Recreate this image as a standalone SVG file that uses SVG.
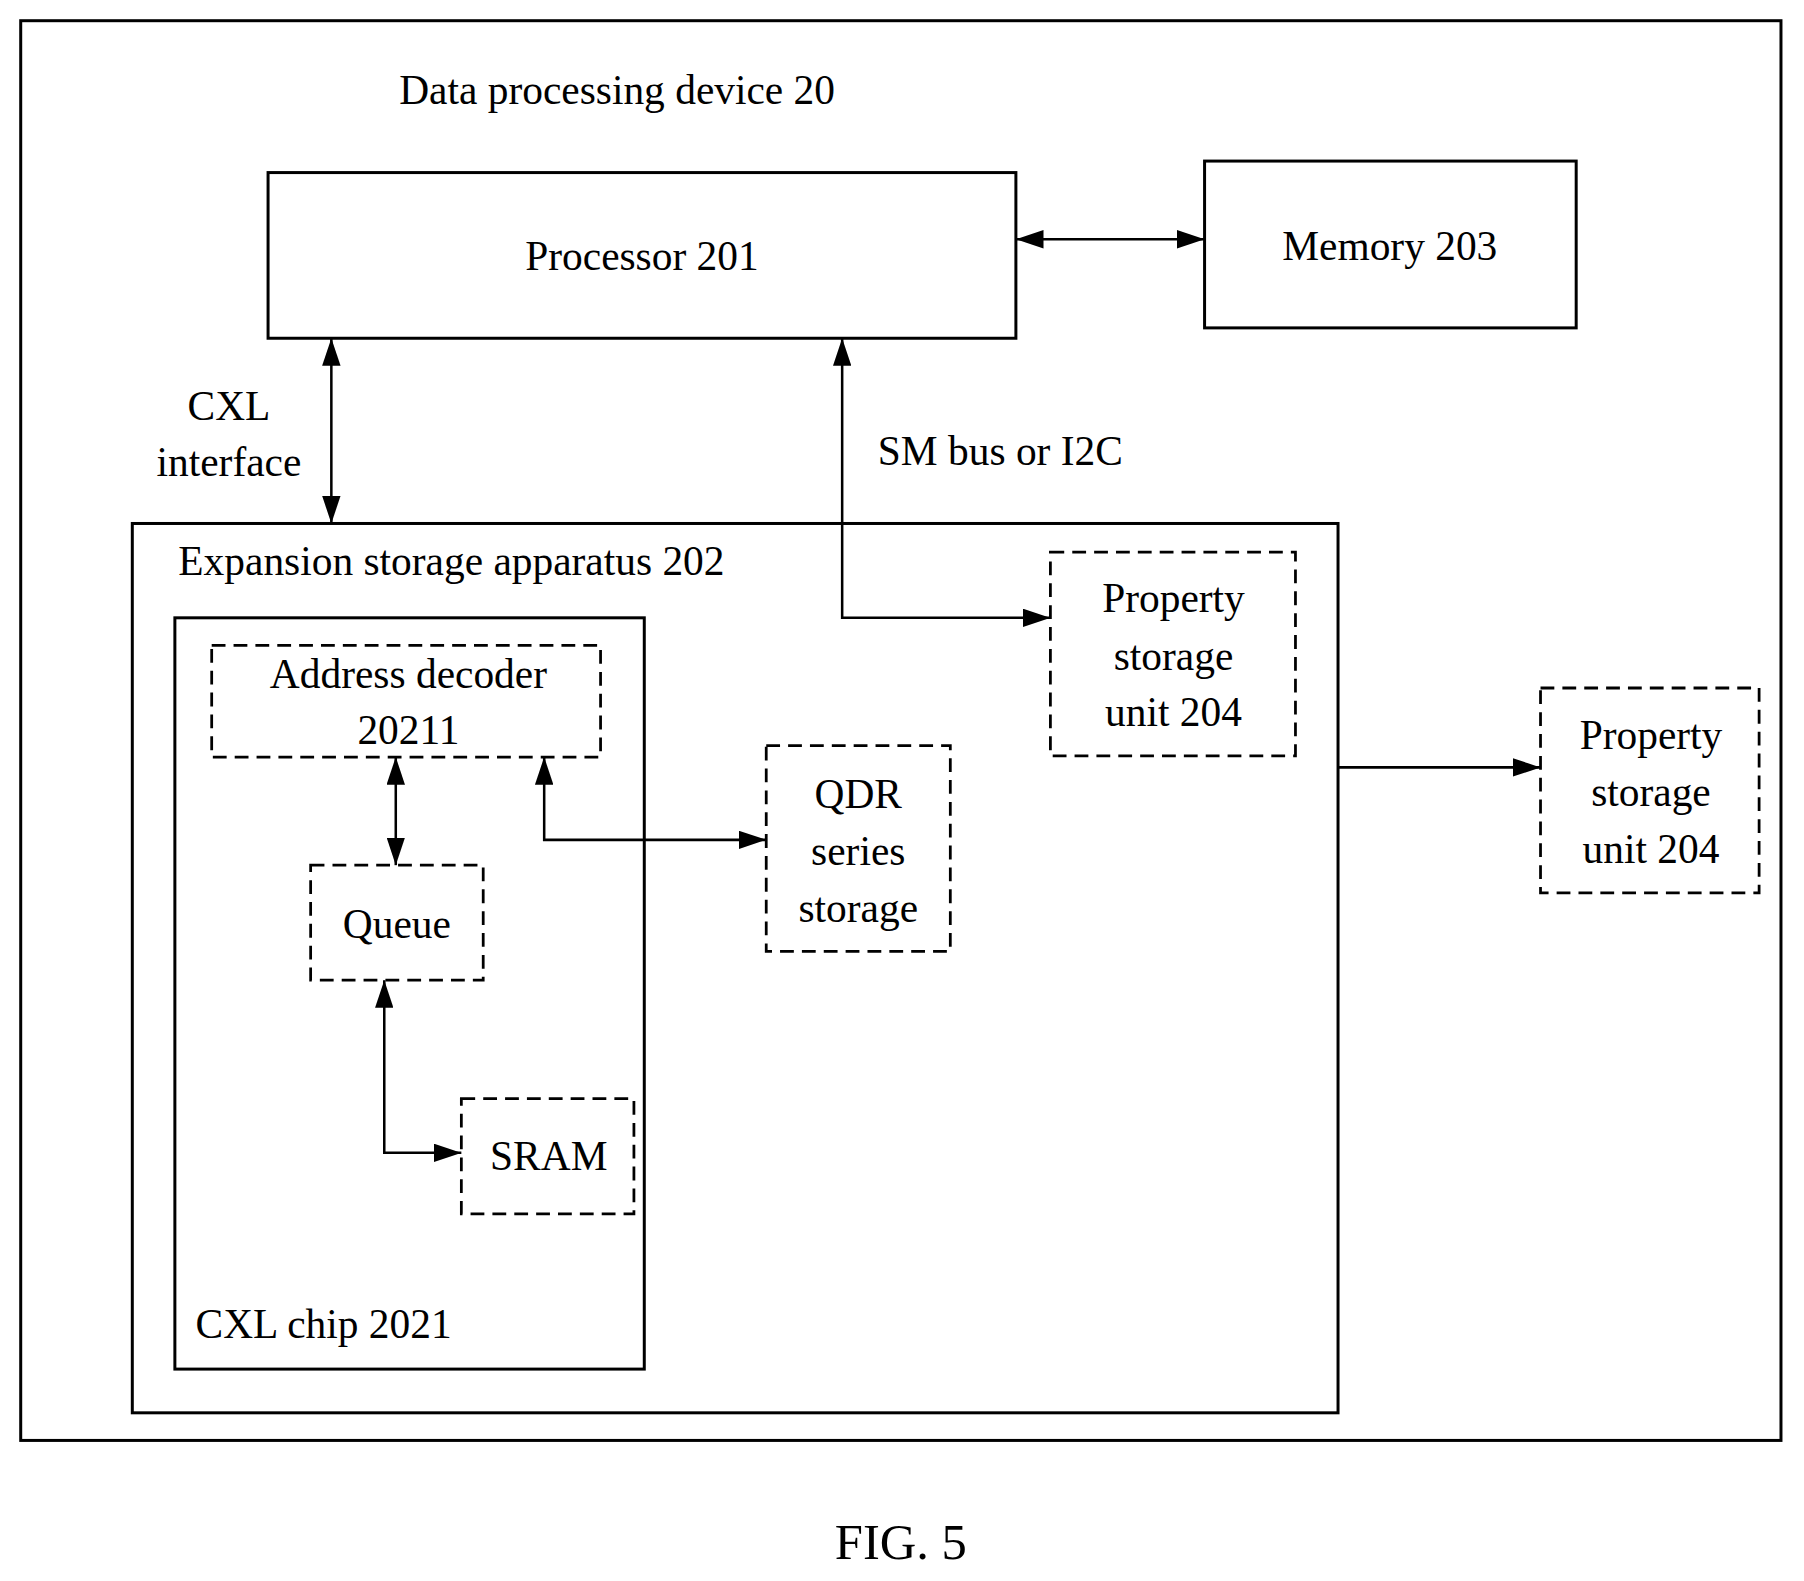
<svg xmlns="http://www.w3.org/2000/svg" width="1804" height="1581" viewBox="0 0 1804 1581">
<style>
.b{fill:none;stroke:#000;stroke-width:2.6}
.d{fill:none;stroke:#000;stroke-width:2.4;stroke-dasharray:12 7}
.l{fill:none;stroke:#000;stroke-width:2.2}
text{font-family:"Liberation Serif","Times New Roman",serif;font-size:36px;fill:#000}
.m{text-anchor:middle}
</style>
<defs>
<marker id="a" viewBox="0 0 24 16" refX="24" refY="8" markerWidth="24" markerHeight="16" markerUnits="userSpaceOnUse" orient="auto-start-reverse"><path d="M0,0L24,8L0,16z" fill="#000"/></marker>
</defs>
<rect width="1804" height="1581" fill="#fff"/>
<g transform="scale(1.1505)">
<g id="device"><rect class="b" x="18" y="18" width="1530" height="1234"/><text x="347" y="90">Data processing device 20</text></g>
<g id="processor"><rect class="b" x="233" y="150" width="650" height="144"/><text class="m" x="558" y="235">Processor 201</text></g>
<g id="memory"><rect class="b" x="1047" y="140" width="323" height="145"/><text class="m" x="1208" y="226">Memory 203</text></g>
<g id="expansion"><rect class="b" x="115" y="455" width="1048" height="773"/><text x="155" y="500">Expansion storage apparatus 202</text></g>
<g id="chip"><rect class="b" x="152" y="537" width="408" height="653"/><text x="170" y="1163">CXL chip 2021</text></g>
<g id="decoder"><rect class="d" x="184" y="561" width="338" height="97"/><text class="m" x="355" y="598">Address decoder</text><text class="m" x="355" y="647">20211</text></g>
<g id="queue"><rect class="d" x="270" y="752" width="150" height="100"/><text class="m" x="345" y="815">Queue</text></g>
<g id="sram"><rect class="d" x="401" y="955" width="150" height="100"/><text class="m" x="477" y="1017">SRAM</text></g>
<g id="prop1"><rect class="d" x="913" y="480" width="213" height="177"/><text class="m" x="1020" y="532">Property</text><text class="m" x="1020" y="582">storage</text><text class="m" x="1020" y="631">unit 204</text></g>
<g id="qdr"><rect class="d" x="666" y="648" width="160" height="179"/><text class="m" x="746" y="702">QDR</text><text class="m" x="746" y="752">series</text><text class="m" x="746" y="801">storage</text></g>
<g id="prop2"><rect class="d" x="1339" y="598" width="190" height="178"/><text class="m" x="1435" y="651">Property</text><text class="m" x="1435" y="701">storage</text><text class="m" x="1435" y="750">unit 204</text></g>
<g id="labels"><text class="m" x="199" y="365">CXL</text><text class="m" x="199" y="414">interface</text><text x="763" y="404">SM bus or I2C</text><text class="m" x="783" y="1355" style="font-size:44px">FIG. 5</text></g>
<g id="connectors">
<path class="l" d="M883,208H1047" marker-start="url(#a)" marker-end="url(#a)"/>
<path class="l" d="M288,294V455" marker-start="url(#a)" marker-end="url(#a)"/>
<path class="l" d="M732,294V537H913" marker-start="url(#a)" marker-end="url(#a)"/>
<path class="l" d="M344,658V752" marker-start="url(#a)" marker-end="url(#a)"/>
<path class="l" d="M473,658V730H666" marker-start="url(#a)" marker-end="url(#a)"/>
<path class="l" d="M334,852V1002H401" marker-start="url(#a)" marker-end="url(#a)"/>
<path class="l" d="M1163,667H1339" marker-end="url(#a)"/>
</g>
</g>
</svg>
